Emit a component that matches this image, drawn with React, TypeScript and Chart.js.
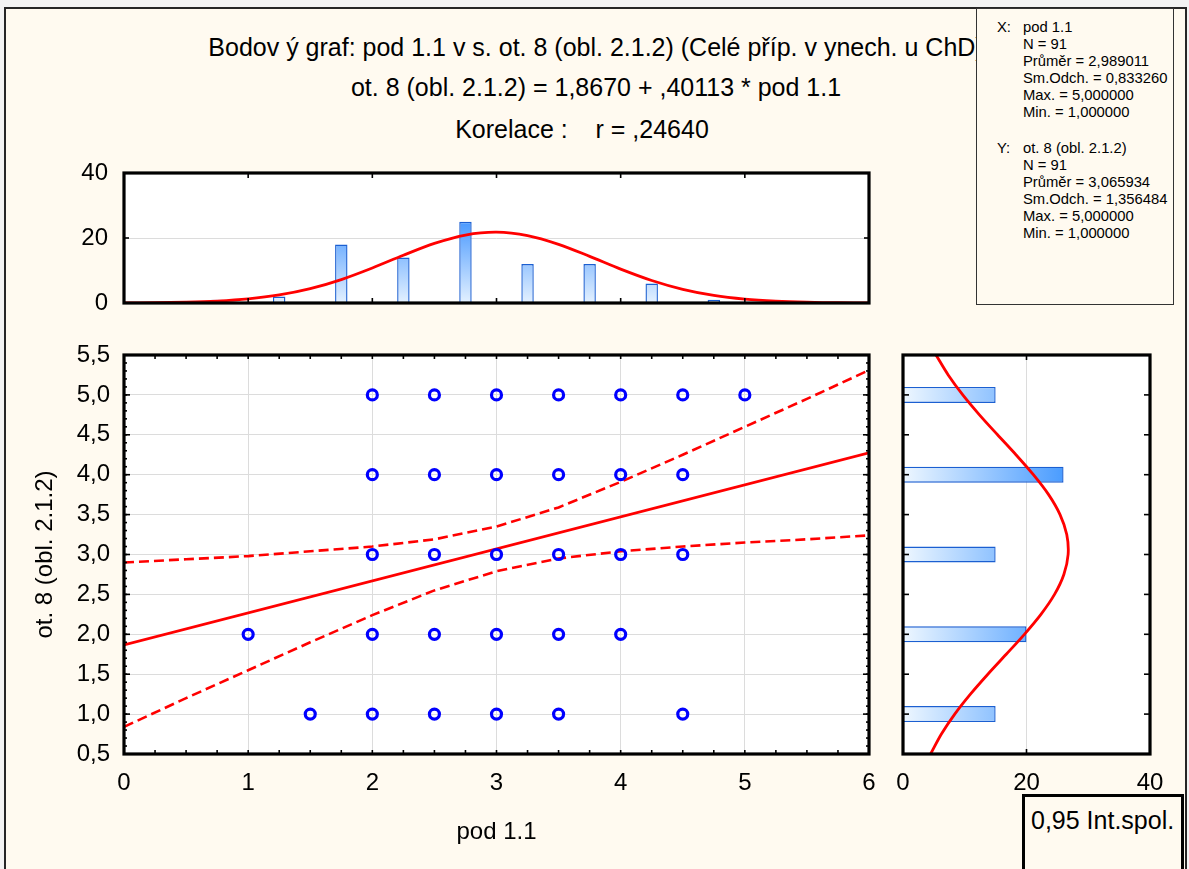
import React, { useEffect, useRef } from 'react';
import { Chart, registerables } from 'chart.js';

Chart.register(...registerables);

// ---------- data ----------
const scatterX = [2, 2.5, 3, 3.5, 4, 4.5, 5, 2, 2.5, 3, 3.5, 4, 4.5, 2, 2.5, 3, 3.5, 4, 4.5, 1, 2, 2.5, 3, 3.5, 4, 1.5, 2, 2.5, 3, 3.5, 4.5];
const scatterY = [5, 5, 5, 5, 5, 5, 5, 4, 4, 4, 4, 4, 4, 3, 3, 3, 3, 3, 3, 2, 2, 2, 2, 2, 2, 1, 1, 1, 1, 1, 1];

const regressionX = [0, 6];
const regressionY = [1.867, 4.274];

const bandX = [0, 0.5, 1, 1.5, 2, 2.5, 3, 3.5, 4, 4.5, 5, 5.5, 6];
const bandUpper = [2.9, 2.94, 2.98, 3.04, 3.1, 3.19, 3.35, 3.59, 3.91, 4.25, 4.6, 4.95, 5.31];
const bandLower = [0.84, 1.2, 1.55, 1.9, 2.24, 2.55, 2.79, 2.95, 3.04, 3.1, 3.15, 3.19, 3.24];

const topBinCenters = [0.75, 1.25, 1.75, 2.25, 2.75, 3.25, 3.75, 4.25, 4.75];
const topBinCounts = [1, 2, 18, 14, 25, 12, 12, 6, 1];
const topCurveX = [0, 0.25, 0.5, 0.75, 1, 1.25, 1.5, 1.75, 2, 2.25, 2.5, 2.75, 3, 3.25, 3.5, 3.75, 4, 4.25, 4.5, 4.75, 5, 5.25, 5.5, 5.75, 6];
const topCurveY = [0.03, 0.1, 0.25, 0.59, 1.26, 2.47, 4.41, 7.21, 10.77, 14.7, 18.34, 20.91, 21.79, 20.75, 18.06, 14.36, 10.43, 6.93, 4.21, 2.33, 1.18, 0.55, 0.23, 0.09, 0.03];

const rightBinCenters = [1, 2, 3, 4, 5];
const rightBinCounts = [15, 20, 15, 26, 15];
const rightCurveY = [0.5, 0.75, 1, 1.25, 1.5, 1.75, 2, 2.25, 2.5, 2.75, 3, 3.25, 3.5, 3.75, 4, 4.25, 4.5, 4.75, 5, 5.25, 5.5];
const rightCurveCount = [4.47, 6.22, 8.38, 10.92, 13.74, 16.72, 19.66, 22.34, 24.54, 26.05, 26.74, 26.52, 25.43, 23.58, 21.11, 18.29, 15.31, 12.38, 9.68, 7.32, 5.35];

const scatterXTicks = [0, 1, 2, 3, 4, 5, 6];
const scatterYTicks = [0.5, 1, 1.5, 2, 2.5, 3, 3.5, 4, 4.5, 5, 5.5];
const histCountTicks = [0, 20, 40];

const titleLines = [
  'Bodov ý graf: pod 1.1 v s. ot. 8 (obl. 2.1.2) (Celé příp. v ynech. u ChD)',
  'ot. 8 (obl. 2.1.2) = 1,8670 + ,40113 * pod 1.1',
  'Korelace :    r = ,24640',
];
const statsX = ['pod 1.1', 'N = 91', 'Průměr = 2,989011', 'Sm.Odch. = 0,833260', 'Max. = 5,000000', 'Min. = 1,000000'];
const statsY = ['ot. 8 (obl. 2.1.2)', 'N = 91', 'Průměr = 3,065934', 'Sm.Odch. = 1,356484', 'Max. = 5,000000', 'Min. = 1,000000'];

// ---------- styles ----------
const FONT = "'Liberation Sans', Arial, Helvetica, sans-serif";
const RED = '#ff0000';
const BLUE = '#0000ff';
const GRID = '#dcdcdc';
const CREAM = '#FFFAF0';
const tickFont = { family: FONT, size: 24 };

const setTicks = (values: number[]) => (scale: any) => {
  scale.ticks = values.map((v) => ({ value: v }));
};

const framePlugin = {
  id: 'frameTicks',
  beforeDraw(chart: any) {
    const { ctx, chartArea: a } = chart;
    ctx.save();
    ctx.fillStyle = '#ffffff';
    ctx.fillRect(a.left, a.top, a.right - a.left, a.bottom - a.top);
    ctx.restore();
  },
  afterDraw(chart: any, _args: any, opts: any) {
    const { ctx, chartArea: a, scales } = chart;
    ctx.save();
    ctx.strokeStyle = '#000';
    ctx.lineWidth = 1.6;
    const seg = (x1: number, y1: number, x2: number, y2: number) => {
      ctx.beginPath();
      ctx.moveTo(x1, y1);
      ctx.lineTo(x2, y2);
      ctx.stroke();
    };
    (opts.x || []).forEach(([step, len]: number[]) => {
      const s = scales.x;
      const n = Math.round((s.max - s.min) / step);
      for (let i = 1; i < n; i++) {
        const p = s.getPixelForValue(s.min + i * step);
        seg(p, a.top, p, a.top + len);
        seg(p, a.bottom, p, a.bottom - len);
      }
    });
    (opts.y || []).forEach(([step, len]: number[]) => {
      const s = scales.y;
      const n = Math.round((s.max - s.min) / step);
      for (let i = 1; i < n; i++) {
        const p = s.getPixelForValue(s.min + i * step);
        seg(a.left, p, a.left + len, p);
        seg(a.right, p, a.right - len, p);
      }
    });
    ctx.lineWidth = 3.2;
    ctx.strokeRect(a.left, a.top, a.right - a.left, a.bottom - a.top);
    ctx.restore();
  },
};

const topBarFill = (c: any) => {
  const chart = c.chart;
  if (!chart.chartArea) return '#8cc4ff';
  const y = chart.scales.y;
  const g = chart.ctx.createLinearGradient(0, y.getPixelForValue(0), 0, y.getPixelForValue(26));
  g.addColorStop(0, '#e4f1ff');
  g.addColorStop(1, '#4496ff');
  return g;
};

const rightBarFill = (c: any) => {
  const chart = c.chart;
  if (!chart.chartArea) return '#8cc4ff';
  const x = chart.scales.x;
  const g = chart.ctx.createLinearGradient(x.getPixelForValue(0), 0, x.getPixelForValue(26), 0);
  g.addColorStop(0, '#eef7ff');
  g.addColorStop(1, '#4a9cff');
  return g;
};

const W = 1189;
const H = 869;

export default function App() {
  const scatterRef = useRef<HTMLCanvasElement>(null);
  const topRef = useRef<HTMLCanvasElement>(null);
  const rightRef = useRef<HTMLCanvasElement>(null);

  useEffect(() => {
    const charts: Chart[] = [];

    charts.push(
      new Chart(scatterRef.current as HTMLCanvasElement, {
        type: 'scatter',
        data: {
          datasets: [
            {
              data: scatterX.map((x, i) => ({ x, y: scatterY[i] })),
              showLine: false,
              pointRadius: 5,
              pointBorderWidth: 3.2,
              pointBorderColor: BLUE,
              pointBackgroundColor: 'rgba(0,0,0,0)',
            },
            {
              data: regressionX.map((x, i) => ({ x, y: regressionY[i] })),
              showLine: true,
              borderColor: RED,
              borderWidth: 2.8,
              pointRadius: 0,
            },
            {
              data: bandX.map((x, i) => ({ x, y: bandUpper[i] })),
              showLine: true,
              borderColor: RED,
              borderWidth: 2.6,
              borderDash: [10, 5],
              pointRadius: 0,
            },
            {
              data: bandX.map((x, i) => ({ x, y: bandLower[i] })),
              showLine: true,
              borderColor: RED,
              borderWidth: 2.6,
              borderDash: [10, 5],
              pointRadius: 0,
            },
          ] as any,
        },
        options: {
          responsive: false,
          animation: false,
          layout: { padding: { left: 0, top: 355, right: W - 869, bottom: 0 } },
          plugins: {
            legend: { display: false },
            tooltip: { enabled: false },
            frameTicks: { x: [[0.25, 4]], y: [[0.1, 3], [0.5, 6]] },
          } as any,
          scales: {
            x: {
              type: 'linear',
              min: 0,
              max: 6,
              afterBuildTicks: setTicks(scatterXTicks),
              afterFit: (s: any) => { s.height = H - 754; },
              grid: { color: GRID, drawTicks: false, lineWidth: 1 },
              border: { display: false },
              ticks: { font: tickFont, color: '#000', padding: 15, maxRotation: 0, autoSkip: false },
              title: { display: true, text: 'pod 1.1', color: '#000', font: { family: FONT, size: 24 }, padding: { top: 0, bottom: 22 } },
            },
            y: {
              type: 'linear',
              min: 0.5,
              max: 5.5,
              afterBuildTicks: setTicks(scatterYTicks),
              afterFit: (s: any) => { s.width = 124; },
              grid: { color: GRID, drawTicks: false, lineWidth: 1 },
              border: { display: false },
              ticks: {
                font: tickFont,
                color: '#000',
                padding: 14,
                autoSkip: false,
                callback: (v: any) => Number(v).toFixed(1).replace('.', ','),
              },
              title: { display: true, text: 'ot. 8 (obl. 2.1.2)', color: '#000', font: { family: FONT, size: 24 }, padding: { top: 31, bottom: 0 } },
            },
          },
        } as any,
        plugins: [framePlugin as any],
      })
    );

    charts.push(
      new Chart(topRef.current as HTMLCanvasElement, {
        type: 'bar',
        data: {
          datasets: [
            {
              type: 'line',
              data: topCurveX.map((x, i) => ({ x, y: topCurveY[i] })),
              borderColor: RED,
              borderWidth: 2.8,
              pointRadius: 0,
              tension: 0.3,
              order: 0,
            },
            {
              type: 'bar',
              data: topBinCenters.map((x, i) => ({ x, y: topBinCounts[i] })),
              backgroundColor: topBarFill,
              borderColor: '#1b5fd1',
              borderWidth: 1.4,
              barPercentage: 0.2,
              categoryPercentage: 1,
              order: 1,
            },
          ] as any,
        },
        options: {
          responsive: false,
          animation: false,
          layout: { padding: { left: 0, top: 173, right: W - 869, bottom: 0 } },
          plugins: {
            legend: { display: false },
            tooltip: { enabled: false },
            frameTicks: { x: [[1, 5]], y: [[20, 5]] },
          } as any,
          scales: {
            x: {
              type: 'linear',
              min: 0,
              max: 6,
              offset: false,
              afterBuildTicks: setTicks(scatterXTicks),
              afterFit: (s: any) => { s.height = H - 303; },
              grid: { display: false },
              border: { display: false },
              ticks: { display: false },
            },
            y: {
              type: 'linear',
              min: 0,
              max: 40,
              afterBuildTicks: setTicks(histCountTicks),
              afterFit: (s: any) => { s.width = 124; },
              grid: { color: GRID, drawTicks: false },
              border: { display: false },
              ticks: { font: tickFont, color: '#000', padding: 16 },
            },
          },
        } as any,
        plugins: [framePlugin as any],
      })
    );

    charts.push(
      new Chart(rightRef.current as HTMLCanvasElement, {
        type: 'bar',
        data: {
          datasets: [
            {
              type: 'line',
              data: rightCurveY.map((y, i) => ({ x: rightCurveCount[i], y })),
              borderColor: RED,
              borderWidth: 2.8,
              pointRadius: 0,
              tension: 0.3,
              order: 0,
            },
            {
              type: 'bar',
              data: rightBinCenters.map((y, i) => ({ x: rightBinCounts[i], y })),
              backgroundColor: rightBarFill,
              borderColor: '#1b5fd1',
              borderWidth: 1.4,
              barPercentage: 0.2,
              categoryPercentage: 1,
              order: 1,
            },
          ] as any,
        },
        options: {
          responsive: false,
          animation: false,
          indexAxis: 'y',
          layout: { padding: { left: 0, top: 355, right: W - 1150, bottom: 0 } },
          plugins: {
            legend: { display: false },
            tooltip: { enabled: false },
            frameTicks: { x: [[20, 5]], y: [[0.5, 6]] },
          } as any,
          scales: {
            x: {
              type: 'linear',
              min: 0,
              max: 40,
              afterBuildTicks: setTicks(histCountTicks),
              afterFit: (s: any) => { s.height = H - 754; },
              grid: { color: GRID, drawTicks: false },
              border: { display: false },
              ticks: { font: tickFont, color: '#000', padding: 15, maxRotation: 0 },
            },
            y: {
              type: 'linear',
              min: 0.5,
              max: 5.5,
              offset: false,
              afterBuildTicks: setTicks(rightBinCenters),
              afterFit: (s: any) => { s.width = 903; },
              grid: { display: false },
              border: { display: false },
              ticks: { display: false },
            },
          },
        } as any,
        plugins: [framePlugin as any],
      })
    );

    return () => charts.forEach((c) => c.destroy());
  }, []);

  const canvasStyle: React.CSSProperties = { position: 'absolute', left: 0, top: 0, width: W, height: H };
  const titleCenters = [596, 596, 582];
  const titleTops = [32, 72, 114];

  return (
    <div style={{ position: 'absolute', left: 0, top: 0, width: W, height: H, overflow: 'hidden', background: '#f3f3f3', fontFamily: FONT }}>
      <div
        style={{
          position: 'absolute',
          left: 4,
          top: 7,
          width: 1183,
          height: 920,
          boxSizing: 'border-box',
          borderTop: '2px solid #262626',
          borderLeft: '2px solid #262626',
          borderRight: '2px solid #262626',
          background: CREAM,
        }}
      />
      {titleLines.map((t, i) => (
        <div
          key={i}
          style={{
            position: 'absolute',
            left: titleCenters[i] - 600,
            width: 1200,
            top: titleTops[i],
            textAlign: 'center',
            fontSize: 25,
            lineHeight: '30px',
            whiteSpace: 'pre',
            color: '#000',
          }}
        >
          {t}
        </div>
      ))}
      <canvas ref={topRef} width={W} height={H} style={canvasStyle} />
      <canvas ref={scatterRef} width={W} height={H} style={canvasStyle} />
      <canvas ref={rightRef} width={W} height={H} style={canvasStyle} />
      <div
        style={{
          position: 'absolute',
          left: 976,
          top: 8,
          width: 198,
          height: 297,
          boxSizing: 'border-box',
          border: '1px solid #333',
          background: CREAM,
          overflow: 'visible',
          fontSize: 14.8,
          lineHeight: '17px',
          color: '#000',
          whiteSpace: 'pre',
        }}
      >
        <div style={{ position: 'absolute', left: 20, top: 10 }}>X:</div>
        <div style={{ position: 'absolute', left: 46, top: 10 }}>
          {statsX.map((s, i) => (
            <div key={i}>{s}</div>
          ))}
        </div>
        <div style={{ position: 'absolute', left: 20, top: 131 }}>Y:</div>
        <div style={{ position: 'absolute', left: 46, top: 131 }}>
          {statsY.map((s, i) => (
            <div key={i}>{s}</div>
          ))}
        </div>
      </div>
      <div
        style={{
          position: 'absolute',
          left: 1022,
          top: 794,
          width: 162,
          height: 120,
          boxSizing: 'border-box',
          border: '3px solid #000',
          background: CREAM,
        }}
      >
        <div style={{ position: 'absolute', left: 6, top: 8, fontSize: 25, lineHeight: '30px', whiteSpace: 'pre', color: '#000' }}>
          0,95 Int.spol.
        </div>
      </div>
    </div>
  );
}
